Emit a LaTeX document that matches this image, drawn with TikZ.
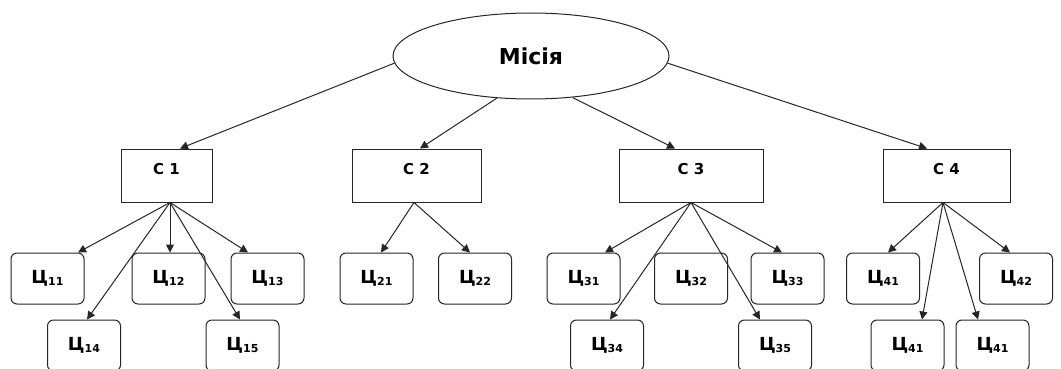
\documentclass[tikz,border=0pt]{standalone}
\usepackage{fontspec}
\setmainfont{DejaVu Sans}
\usetikzlibrary{arrows.meta,shapes.geometric}
\newcommand{\qq}[1]{Ц\raisebox{-1.5pt}{\fontsize{11}{11}\selectfont #1}}
\tikzset{
  conn/.style={draw=black!85, line width=1pt, -{Triangle[length=8pt,width=8pt]}},
  mission/.style={ellipse, draw=black!85, line width=1pt, minimum width=276pt, minimum height=86pt, inner sep=0pt, font=\bfseries\fontsize{22}{22}\selectfont},
  goalbox/.style={rectangle, draw=black!85, line width=1pt, minimum height=53pt, inner sep=0pt, text height=11pt, text depth=13pt, font=\bfseries\fontsize{15}{15}\selectfont},
  taskbox/.style={rectangle, rounded corners=6pt, draw=black!85, line width=1pt, minimum width=73pt, minimum height=51pt, inner sep=0pt, font=\bfseries\fontsize{18}{18}\selectfont}
}
\begin{document}
\begin{tikzpicture}[x=1pt,y=-1pt]
\useasboundingbox[fill=white] (0,0) rectangle (1061,369);
\node[mission] (mis) at (531,56) {Місія};
\node[goalbox, minimum width=91pt] (c1) at (166.5,175.5) {С 1};
\node[goalbox, minimum width=129pt] (c2) at (416.5,175.5) {С 2};
\node[goalbox, minimum width=144pt] (c3) at (691,175.5) {С 3};
\node[goalbox, minimum width=127pt] (c4) at (946.5,175.5) {С 4};

\node[taskbox] (q11) at (47.5,278.5) {\qq{11}};
\node[taskbox] (q12) at (168.5,278.5) {\qq{12}};
\node[taskbox] (q13) at (267.5,278.5) {\qq{13}};
\node[taskbox] (q14) at (84,345.5) {\qq{14}};
\node[taskbox] (q15) at (242.5,345.5) {\qq{15}};
\node[taskbox] (q21) at (376.5,278.5) {\qq{21}};
\node[taskbox] (q22) at (475,278.5) {\qq{22}};
\node[taskbox] (q31) at (583.5,278.5) {\qq{31}};
\node[taskbox] (q32) at (691,278.5) {\qq{32}};
\node[taskbox] (q33) at (787.5,278.5) {\qq{33}};
\node[taskbox] (q34) at (607,345.5) {\qq{34}};
\node[taskbox] (q35) at (775,345.5) {\qq{35}};
\node[taskbox] (q41) at (883,278.5) {\qq{41}};
\node[taskbox] (q42) at (1016,278.5) {\qq{42}};
\node[taskbox] (q43) at (907.5,345.5) {\qq{41}};
\node[taskbox] (q44) at (992.5,345.5) {\qq{41}};

\draw[conn] (mis.183) -- ([xshift=13.5pt]c1.north);
\draw[conn] (mis.231) -- ([xshift=3.5pt]c2.north);
\draw[conn] (mis.315) -- ([xshift=-16pt]c3.north);
\draw[conn] (mis.357) -- ([xshift=-19.5pt]c4.north);

\draw[conn] ([xshift=3.5pt]c1.south) -- ([xshift=30.5pt]q11.north);
\draw[conn] ([xshift=3.5pt]c1.south) -- ([xshift=1.5pt]q12.north);
\draw[conn] ([xshift=3.5pt]c1.south) -- ([xshift=-19.5pt]q13.north);
\draw[conn] ([xshift=3.5pt]c1.south) -- ([xshift=3pt]q14.north);
\draw[conn] ([xshift=3.5pt]c1.south) -- ([xshift=-2.5pt]q15.north);

\draw[conn] ([xshift=-2.5pt]c2.south) -- ([xshift=4.5pt]q21.north);
\draw[conn] ([xshift=-2.5pt]c2.south) -- ([xshift=-5pt]q22.north);

\draw[conn] (c3.south) -- ([xshift=21.5pt]q31.north);
\draw[conn] (c3.south) -- ([xshift=-5.5pt]q33.north);
\draw[conn] (c3.south) -- ([xshift=3pt]q34.north);
\draw[conn] (c3.south) -- ([xshift=-15pt]q35.north);

\draw[conn] ([xshift=-3.5pt]c4.south) -- ([xshift=5pt]q41.north);
\draw[conn] ([xshift=-3.5pt]c4.south) -- ([xshift=-6pt]q42.north);
\draw[conn] ([xshift=-3.5pt]c4.south) -- ([xshift=14.5pt]q43.north);
\draw[conn] ([xshift=-3.5pt]c4.south) -- ([xshift=-14.5pt]q44.north);
\end{tikzpicture}
\end{document}
